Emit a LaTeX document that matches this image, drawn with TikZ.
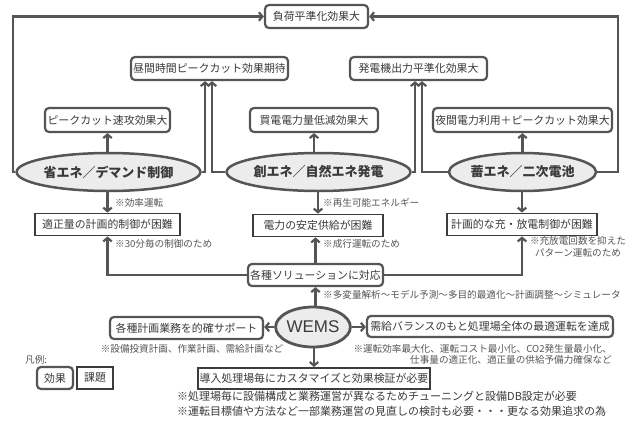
\documentclass[tikz,border=0pt]{standalone}
\usepackage{fontspec}
\setmainfont{Liberation Sans}
\newfontfamily\jp{Noto Sans CJK JP}
\usetikzlibrary{shapes.geometric,arrows.meta}
\definecolor{ln}{HTML}{555555}
\definecolor{dk}{HTML}{3C3C3C}
\definecolor{tx}{HTML}{3A3A3A}
\definecolor{nt}{HTML}{555555}
\definecolor{efill}{HTML}{ECECEC}
\begin{document}
\begin{tikzpicture}[x=1pt,y=-1pt,
 eff/.style={draw=ln, line width=2.2pt, rounded corners=4pt, fill=white, inner sep=0pt, minimum height=23pt, text=tx, font=\jp\fontsize{10.9}{13}\selectfont},
 prob/.style={draw=dk, line width=1.8pt, fill=white, inner sep=0pt, minimum height=22pt, text=tx, font=\jp\fontsize{10.9}{13}\selectfont},
 ell/.style={ellipse, draw=ln, line width=2.5pt, fill=efill, inner sep=0pt, minimum height=38pt, text=tx, font=\jp\bfseries\fontsize{13}{15}\selectfont},
 note/.style={inner sep=0pt, text=nt, font=\jp\fontsize{9.6}{11.5}\selectfont},
 bignote/.style={inner sep=0pt, text=tx, font=\jp\fontsize{11}{15}\selectfont},
 arr/.style={draw=ln, line width=2.2pt, -{Straight Barb[length=3.6pt,width=8.5pt]}},
]
\useasboundingbox (0,0) rectangle (635,421);

% effect boxes
\node[eff, minimum width=103pt] (top) at (316.5,16.5) {負荷平準化効果大};
\node[eff, minimum width=157pt] (day) at (209.5,68.5) {昼間時間ピークカット効果期待};
\node[eff, minimum width=137pt] (gen) at (418.5,68.5) {発電機出力平準化効果大};
\node[eff, minimum width=125pt, minimum height=24pt] (pk) at (107.5,120) {ピークカット速攻効果大};
\node[eff, minimum width=128pt, minimum height=24pt] (buy) at (314,120) {買電電力量低減効果大};
\node[eff, minimum width=179pt, minimum height=24pt] (night) at (522.5,120) {夜間電力利用＋ピークカット効果大};

% ellipses
\node[ell, minimum width=167pt] (e1) at (108.5,172) {省エネ／デマンド制御};
\node[ell, minimum width=177pt] (e2) at (318.5,172) {創エネ／自然エネ発電};
\node[ell, minimum width=145pt] (e3) at (522.5,172) {蓄エネ／二次電池};

% problem boxes
\node[prob, minimum width=145pt] (p1) at (107.5,224.5) {適正量の計画的制御が困難};
\node[prob, minimum width=130pt] (p2) at (318,225.5) {電力の安定供給が困難};
\node[prob, minimum width=150pt] (p3) at (522,224.5) {計画的な充・放電制御が困難};

% solutions
\node[eff, minimum width=135pt, minimum height=22pt] (sol) at (315.5,275) {各種ソリューションに対応};
\node[ell, minimum width=70pt, minimum height=40pt, line width=2.8pt, font=\fontsize{17}{19}\selectfont] (wems) at (313,327) {WEMS};
\node[eff, minimum width=153pt, minimum height=22pt] (plan) at (186.5,328) {各種計画業務を的確サポート};
\node[eff, minimum width=246pt, minimum height=21pt] (bal) at (490,326.5) {需給バランスのもと処理場全体の最適運転を達成};
\node[prob, minimum width=232pt, minimum height=21pt, line width=2pt] (cust) at (314,378.5) {導入処理場毎にカスタマイズと効果検証が必要};

% legend
\node[note, anchor=west] (lg) at (25,360) {凡例:};
\node[eff, minimum width=36pt, minimum height=22pt] (lge) at (55,378) {効果};
\node[prob, minimum width=36pt, minimum height=22pt] (lgp) at (95,378) {課題};

% junction coordinates
\coordinate (jl) at (13,172);
\coordinate (jr) at (618,172);
\coordinate (j1) at (205,172);
\coordinate (j2) at (212,172);
\coordinate (j3) at (415,172);
\coordinate (j4) at (422,172);
\coordinate (sl) at (107.5,275);
\coordinate (sr) at (522,275);

% connectors
\draw[arr] (e1.west) -- (jl) |- (top.west);
\draw[arr] (e3.east) -- (jr) |- (top.east);
\draw[arr] (e1.east) -- (j1) -- (j1 |- day.south);
\draw[arr] (e2.west) -- (j2) -- (j2 |- day.south);
\draw[arr] (e2.east) -- (j3) -- (j3 |- gen.south);
\draw[arr] (e3.west) -- (j4) -- (j4 |- gen.south);
\draw[arr] (e1.north -| pk.south) -- (pk.south);
\draw[arr] (e2.north -| buy.south) -- (buy.south);
\draw[arr] (e3.north) -- (night.south);
\draw[arr] (e1.south -| p1.north) -- (p1.north);
\draw[arr] (e2.south -| p2.north) -- (p2.north);
\draw[arr] (e3.south -| p3.north) -- (p3.north);
\draw[arr] (sol.west) -- (sl) -- (p1.south);
\draw[arr] (sol.east) -- (sr) -- (p3.south);
\draw[arr] (sol.north) -- (sol.north |- p2.south);
\draw[arr] (wems.north -| sol.south) -- (sol.south);
\draw[arr] (wems.west) -- (wems.west -| plan.east);
\draw[arr] (wems.east) -- (wems.east -| bal.west);
\draw[arr] (wems.south -| cust.north) -- (cust.north);

% notes
\node[note, anchor=west] (n1) at (115,203) {※効率運転};
\node[note, anchor=west] (n2) at (115,243.5) {※30分毎の制御のため};
\node[note, anchor=west] (n3) at (323,203) {※再生可能エネルギー};
\node[note, anchor=west] (n4) at (323,244) {※成行運転のため};
\node[note, align=center] (n5) at (578,247) {※充放電回数を抑えた\\パターン運転のため};
\node[note, anchor=west] (n6) at (323,295) {※多変量解析〜モデル予測〜多目的最適化〜計画調整〜シミュレータ};
\node[note] (n7) at (192,349) {※設備投資計画、作業計画、需給計画など};
\node[note, align=right, anchor=north east] (n8) at (612,344) {※運転効率最大化、運転コスト最小化、CO2発生量最小化、\\仕事量の適正化、適正量の供給予備力確保など};
\node[bignote, align=left, anchor=north west] (n9) at (177,391) {※処理場毎に設備構成と業務運営が異なるためチューニングと設備DB設定が必要\\※運転目標値や方法など一部業務運営の見直しの検討も必要・・・更なる効果追求の為};
\end{tikzpicture}
\end{document}
